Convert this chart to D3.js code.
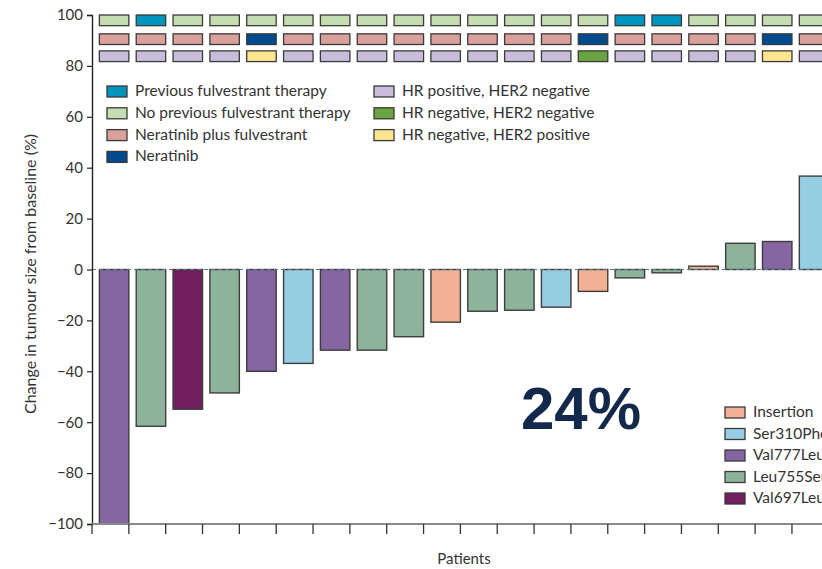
<!DOCTYPE html>
<html>
<head>
<meta charset="utf-8">
<script src="https://cdn.jsdelivr.net/npm/d3@7"></script>
<style>
  body { margin: 0; background: #fff; }
  text { font-family: Lato, "Open Sans", sans-serif; fill: #333; }
</style>
</head>
<body>
<div id="graph"></div>
<script>
// values, one entry per patient
var patients = ["P1","P2","P3","P4","P5","P6","P7","P8","P9","P10",
                "P11","P12","P13","P14","P15","P16","P17","P18","P19","P20"];
var change = [-100, -61.6, -54.9, -48.5, -40, -36.9, -31.7, -31.7, -26.4, -20.7,
              -16.4, -16, -14.8, -8.6, -3.3, -1.3, 1.3, 10.3, 11, 36.7];
var mutation = ["Val777Leu","Leu755Ser","Val697Leu","Leu755Ser","Val777Leu","Ser310Phe","Val777Leu","Leu755Ser","Leu755Ser","Insertion",
                "Leu755Ser","Leu755Ser","Ser310Phe","Insertion","Leu755Ser","Leu755Ser","Insertion","Leu755Ser","Val777Leu","Ser310Phe"];
var priorFulv = ["No","Prev","No","No","No","No","No","No","No","No",
                 "No","No","No","No","Prev","Prev","No","No","No","No"];
var treatment = ["NF","NF","NF","NF","N","NF","NF","NF","NF","NF",
                 "NF","NF","NF","N","NF","NF","NF","NF","N","NF"];
var receptor = ["HR+HER2-","HR+HER2-","HR+HER2-","HR+HER2-","HR-HER2+","HR+HER2-","HR+HER2-","HR+HER2-","HR+HER2-","HR+HER2-",
                "HR+HER2-","HR+HER2-","HR+HER2-","HR-HER2-","HR+HER2-","HR+HER2-","HR+HER2-","HR+HER2-","HR-HER2+","HR+HER2-"];

var yTicks = [100, 80, 60, 40, 20, 0, -20, -40, -60, -80, -100];

// legend entries
var mutationKeys = ["Insertion", "Ser310Phe", "Val777Leu", "Leu755Ser", "Val697Leu"];
var mutationColors = ["#f2b095", "#98cee3", "#8566a3", "#8db39b", "#711f5f"];
var fulvKeys = ["Prev", "No"];
var fulvLabels = ["Previous fulvestrant therapy", "No previous fulvestrant therapy"];
var fulvColors = ["#0093bb", "#c6dcb1"];
var treatKeys = ["NF", "N"];
var treatLabels = ["Neratinib plus fulvestrant", "Neratinib"];
var treatColors = ["#d9a09c", "#004b8e"];
var recKeys = ["HR+HER2-", "HR-HER2-", "HR-HER2+"];
var recLabels = ["HR positive, HER2 negative", "HR negative, HER2 negative", "HR negative, HER2 positive"];
var recColors = ["#c8bedc", "#6ba543", "#fee78f"];

var W = 822, H = 569;

var svg = d3.select("#graph")
  .append("svg")
  .attr("width", W)
  .attr("height", H);

var data = patients.map(function(p, i) {
  return {id: p, value: change[i], mut: mutation[i], fulv: priorFulv[i], treat: treatment[i], rec: receptor[i]};
});

var x = d3.scaleBand()
  .domain(patients)
  .range([92, 92 + patients.length * 36.84])
  .paddingInner(0.2)
  .paddingOuter(0.1)
  .align(1);

var y = d3.scaleLinear().domain([-100, 100]).range([524, 15]);

var mutColor = d3.scaleOrdinal().domain(mutationKeys).range(mutationColors);
var fulvColor = d3.scaleOrdinal().domain(fulvKeys).range(fulvColors);
var treatColor = d3.scaleOrdinal().domain(treatKeys).range(treatColors);
var recColor = d3.scaleOrdinal().domain(recKeys).range(recColors);

// bars
svg.append("g")
  .selectAll("rect")
  .data(data)
  .enter()
  .append("rect")
    .attr("x", function(d) { return x(d.id); })
    .attr("width", x.bandwidth())
    .attr("y", function(d) { return y(Math.max(0, d.value)); })
    .attr("height", function(d) { return Math.abs(y(d.value) - y(0)); })
    .style("fill", function(d) { return mutColor(d.mut); })
    .style("stroke", "#3d3d3d")
    .style("stroke-width", 1.4);

// zero line, dashed, drawn over the bar tops
svg.append("line")
  .attr("x1", 92).attr("x2", W)
  .attr("y1", y(0)).attr("y2", y(0))
  .style("stroke", "#5d7888")
  .style("stroke-width", 1.2)
  .style("stroke-dasharray", "4,3");

// tile rows at the top (prior fulvestrant / treatment / receptor status)
var tileRows = [
  {top: 100, key: "fulv", color: fulvColor},
  {top: 92.6, key: "treat", color: treatColor},
  {top: 85.9, key: "rec", color: recColor}
];
var tileH = y(0) - y(4.2);

tileRows.forEach(function(row) {
  svg.append("g")
    .selectAll("rect")
    .data(data)
    .enter()
    .append("rect")
      .attr("x", function(d) { return x(d.id); })
      .attr("y", y(row.top))
      .attr("width", x.bandwidth())
      .attr("height", tileH)
      .style("fill", function(d) { return row.color(d[row.key]); })
      .style("stroke", "#3a3a3a")
      .style("stroke-width", 1.3);
});

// y axis
var yAxis = svg.append("g")
  .attr("transform", "translate(92,0)")
  .call(d3.axisLeft(y).tickValues(yTicks).tickSize(5).tickPadding(4)
    .tickFormat(function(d) { return d < 0 ? "\u2212" + Math.abs(d) : d; }));
yAxis.select(".domain").style("stroke", "#222").style("stroke-width", 1.4);
yAxis.selectAll(".tick line").style("stroke", "#222").style("stroke-width", 1.2);
yAxis.selectAll("text").style("font-size", "15px").style("fill", "#333").attr("font-family", null);

// x axis: grey baseline with ticks at the bar edges
svg.append("line")
  .attr("x1", 92).attr("x2", W)
  .attr("y1", y(-100)).attr("y2", y(-100))
  .style("stroke", "#8a8a8a")
  .style("stroke-width", 2);

var xTickPos = [x.range()[0]].concat(patients.map(function(p) { return x(p) + x.bandwidth(); }));
svg.append("g")
  .selectAll("line")
  .data(xTickPos)
  .enter()
  .append("line")
    .attr("x1", function(d) { return d; })
    .attr("x2", function(d) { return d; })
    .attr("y1", y(-100))
    .attr("y2", y(-100) + 10)
    .style("stroke", "#333")
    .style("stroke-width", 1.3);

// axis titles
svg.append("text")
  .attr("x", 464).attr("y", 564)
  .attr("text-anchor", "middle")
  .style("font-size", "15px")
  .text("Patients");

svg.append("text")
  .attr("transform", "translate(36,274) rotate(-90)")
  .attr("text-anchor", "middle")
  .style("font-size", "16px")
  .text("Change in tumour size from baseline (%)");

// big response rate label
svg.append("text")
  .attr("x", 521).attr("y", 429)
  .style("font-family", "'Liberation Sans', Arial, sans-serif")
  .style("font-weight", "bold")
  .style("font-size", "60px")
  .style("fill", "#13294b")
  .text("24%");

// legends
function legend(keys, labels, colors, x0, y0, step) {
  var g = svg.append("g").attr("transform", "translate(" + x0 + "," + y0 + ")");
  var item = g.selectAll("g")
    .data(keys)
    .enter()
    .append("g")
      .attr("transform", function(d, i) { return "translate(0," + (i * step) + ")"; });
  item.append("rect")
    .attr("width", 20).attr("height", 11)
    .style("fill", function(d, i) { return colors[i]; })
    .style("stroke", "#3a3a3a")
    .style("stroke-width", 1.3);
  item.append("text")
    .attr("x", 28).attr("y", 10)
    .style("font-size", "15.5px")
    .text(function(d, i) { return labels[i]; });
}

legend(fulvKeys.concat(treatKeys), fulvLabels.concat(treatLabels),
       fulvColors.concat(treatColors), 107, 86, 21.8);
legend(recKeys, recLabels, recColors, 374, 86, 21.8);
legend(mutationKeys, mutationKeys, mutationColors, 725, 407, 21.5);
</script>
</body>
</html>
